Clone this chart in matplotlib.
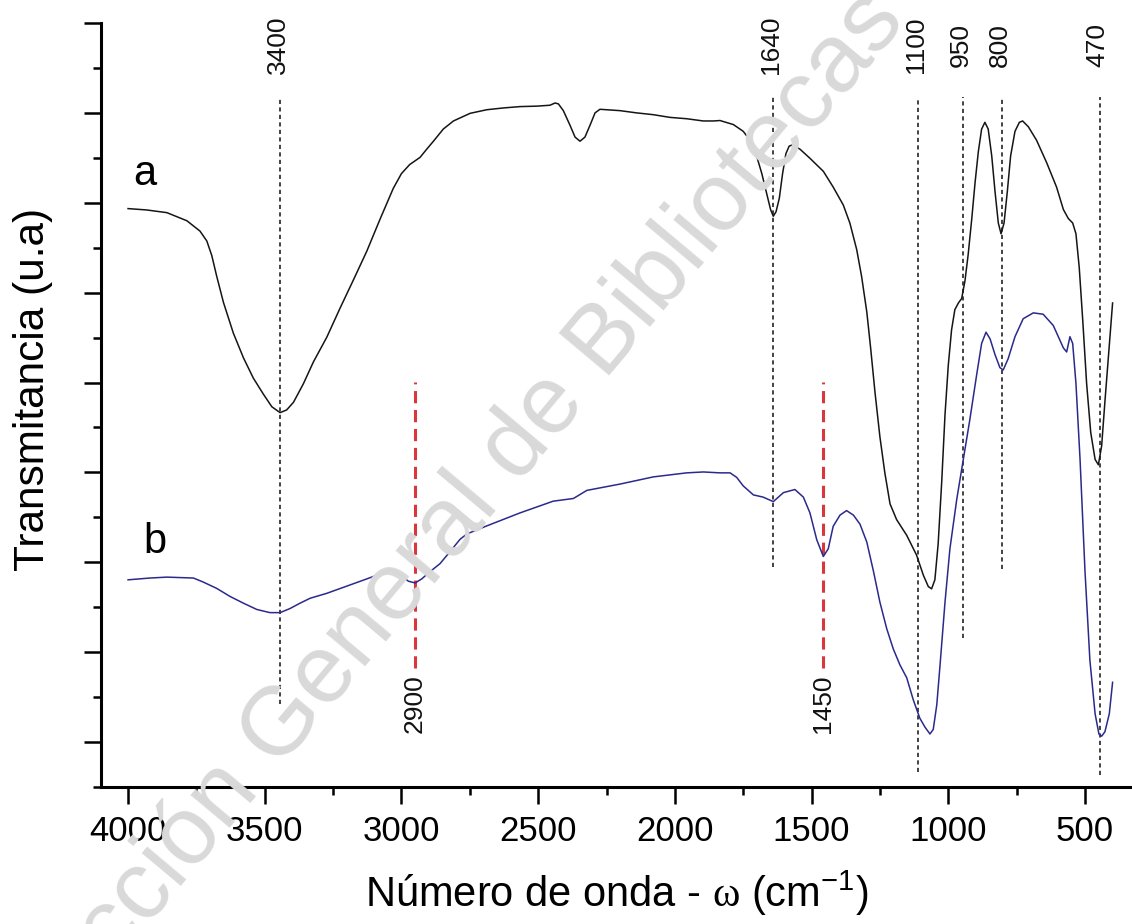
import matplotlib
matplotlib.use("Agg")
import matplotlib.pyplot as plt
from matplotlib.ticker import MultipleLocator, NullFormatter

plt.rcParams['font.family'] = ['Liberation Sans', 'DejaVu Sans']
plt.rcParams['mathtext.fontset'] = 'custom'
plt.rcParams['mathtext.rm'] = 'Liberation Serif'
plt.rcParams['mathtext.sf'] = 'Liberation Sans'

# ---- data: wavenumber (cm^-1) and transmittance (a.u., offset traces) ----
wn_a = [4000, 3932, 3858, 3785, 3737, 3712, 3694, 3676, 3651, 3615, 3578, 3542,
        3505, 3474, 3444, 3420, 3395, 3359, 3322, 3273, 3225, 3176, 3127, 3078,
        3030, 3000, 2970, 2932, 2908, 2883, 2847, 2810, 2749, 2688, 2627, 2566,
        2505, 2457, 2438, 2426, 2408, 2384, 2365, 2347, 2329, 2310, 2292, 2274,
        2201, 2140, 2079, 2018, 1957, 1896, 1859, 1835, 1786, 1750, 1725, 1701,
        1682, 1664, 1650, 1640, 1630, 1618, 1606, 1594, 1582, 1569, 1542, 1506,
        1457, 1421, 1384, 1360, 1335, 1317, 1298, 1284, 1268, 1250, 1232, 1213,
        1189, 1152, 1116, 1091, 1073, 1061, 1049, 1037, 1024, 1012, 1000, 988,
        976, 963, 951, 939, 927, 914, 902, 890, 878, 866, 854, 841, 829, 817,
        807, 796, 784, 772, 756, 740, 728, 707, 677, 640, 604, 579, 561, 545,
        533, 521, 508, 494, 479, 463, 451, 439, 427, 412, 399]
tr_a = [12.87, 12.84, 12.78, 12.60, 12.37, 12.15, 11.83, 11.37, 10.78, 10.10,
        9.55, 9.10, 8.74, 8.46, 8.33, 8.39, 8.56, 8.97, 9.46, 10.01, 10.65,
        11.28, 11.92, 12.64, 13.32, 13.65, 13.85, 14.01, 14.19, 14.37, 14.64,
        14.82, 14.99, 15.07, 15.11, 15.14, 15.15, 15.17, 15.22, 15.20, 15.05,
        14.73, 14.46, 14.37, 14.46, 14.73, 15.00, 15.08, 15.05, 15.00, 14.96,
        14.90, 14.87, 14.82, 14.82, 14.83, 14.74, 14.59, 14.39, 14.04, 13.65,
        13.20, 12.85, 12.70, 12.80, 13.10, 13.65, 14.09, 14.26, 14.29, 14.19,
        13.99, 13.70, 13.35, 12.95, 12.55, 11.96, 11.36, 10.57, 9.77, 8.78,
        7.79, 6.99, 6.30, 5.95, 5.60, 5.16, 4.71, 4.46, 4.41, 4.61, 5.41, 6.79,
        8.28, 9.38, 10.17, 10.62, 10.77, 10.87, 11.26, 11.86, 12.65, 13.45,
        14.14, 14.64, 14.79, 14.64, 14.04, 13.25, 12.55, 12.31, 12.55, 13.25,
        14.04, 14.59, 14.79, 14.82, 14.69, 14.39, 13.89, 13.35, 12.85, 12.65,
        12.55, 12.31, 11.56, 10.37, 8.98, 7.89, 7.29, 7.17, 7.59, 8.58, 9.77,
        10.77]

wn_b = [4000, 3920, 3858, 3761, 3725, 3676, 3627, 3578, 3529, 3481, 3444, 3408,
        3371, 3334, 3273, 3200, 3127, 3078, 3042, 3024, 2999, 2975, 2950, 2926,
        2896, 2859, 2822, 2786, 2761, 2688, 2566, 2445, 2371, 2322, 2201, 2079,
        1957, 1896, 1835, 1798, 1774, 1750, 1713, 1677, 1640, 1603, 1561, 1530,
        1506, 1481, 1457, 1439, 1421, 1396, 1372, 1347, 1323, 1298, 1274, 1250,
        1225, 1201, 1177, 1152, 1128, 1104, 1085, 1067, 1055, 1042, 1030, 1012,
        994, 969, 945, 921, 896, 878, 862, 847, 829, 811, 799, 781, 756, 726,
        689, 653, 616, 579, 567, 555, 545, 533, 518, 500, 482, 463, 449, 439,
        427, 411, 399]
tr_b = [4.61, 4.65, 4.67, 4.65, 4.56, 4.42, 4.24, 4.09, 3.95, 3.88, 3.88, 3.97,
        4.09, 4.20, 4.31, 4.47, 4.63, 4.74, 4.83, 4.80, 4.70, 4.58, 4.54, 4.63,
        4.79, 4.97, 5.24, 5.51, 5.63, 5.81, 6.10, 6.36, 6.42, 6.60, 6.74, 6.90,
        6.99, 7.01, 6.99, 6.99, 6.89, 6.70, 6.50, 6.45, 6.35, 6.55, 6.62, 6.45,
        6.10, 5.50, 5.13, 5.30, 5.80, 6.05, 6.15, 6.05, 5.85, 5.45, 4.81, 4.11,
        3.52, 3.07, 2.72, 2.43, 1.94, 1.53, 1.33, 1.18, 1.28, 1.83, 2.72, 4.11,
        5.30, 6.40, 7.29, 8.18, 9.18, 9.87, 10.12, 9.97, 9.62, 9.33, 9.28, 9.53,
        10.02, 10.42, 10.55, 10.52, 10.27, 9.77, 9.68, 10.02, 9.87, 8.98, 7.29,
        4.81, 2.82, 1.63, 1.18, 1.13, 1.23, 1.63, 2.33]

# band marker lines: drawn position, label, lower end of the line
black_pos = [3444, 1641, 1111, 946, 804, 445]
black_lab = ["3400", "1640", "1100", "950", "800", "470"]
black_bot = [1.85, 4.90, 0.33, 3.32, 4.85, 0.27]
red_pos = [2950, 1458]
red_lab = ["2900", "1450"]

x_ticks = [4000, 3500, 3000, 2500, 2000, 1500, 1000, 500]

fig = plt.figure(figsize=(11.32, 9.24), dpi=100)
ax = fig.add_axes([101/1132, 137/924, 1 - 101/1132, (787-23)/924])
ax.set_facecolor("none")

# watermark
fig.text(0.425, 0.47, "Colección General de Bibliotecas UC", fontsize=70,
         color="#d9d9d9", rotation=50, ha="center", va="center",
         rotation_mode="anchor", zorder=0)

ax.plot(wn_a, tr_a, color="#151515", lw=1.1, zorder=3)
ax.plot(wn_b, tr_b, color="#2a2a8c", lw=1.1, zorder=3)

for p, lab, bot in zip(black_pos, black_lab, black_bot):
    ax.plot([p, p], [bot, 15.35], color="#222222", lw=1.2,
            linestyle=(0, (2.5, 2.0)), zorder=2)
    ax.text(p + 8, 16.51, lab, rotation=90, ha="center", va="center",
            fontsize=19, color="#111111")

for p, lab in zip(red_pos, red_lab):
    ax.plot([p, p], [2.65, 9.01], color="#d9363e", lw=2.2,
            linestyle=(0, (4.0, 2.2)), zorder=2)
    ax.text(p + 2, 1.85, lab, rotation=90, ha="center", va="center",
            fontsize=19, color="#111111")

ax.text(3940, 13.65, "a", fontsize=30, ha="center", va="center")
ax.text(3900, 5.45, "b", fontsize=30, ha="center", va="center")

ax.set_xlim(4099, 328)
ax.set_ylim(0, 17)
ax.set_xticks(x_ticks)
ax.xaxis.set_minor_locator(MultipleLocator(250))
ax.yaxis.set_major_locator(MultipleLocator(2, offset=1))
ax.yaxis.set_minor_locator(MultipleLocator(1))
ax.yaxis.set_major_formatter(NullFormatter())
ax.tick_params(axis="both", which="major", length=12, width=1.8, direction="out")
ax.tick_params(axis="both", which="minor", length=6, width=1.8, direction="out")
ax.tick_params(axis="x", labelsize=25, pad=8)

for s in ["top", "right"]:
    ax.spines[s].set_visible(False)
for s in ["left", "bottom"]:
    ax.spines[s].set_linewidth(2.2)

ax.set_xlabel(r"Número de onda - $\mathrm{\omega}$ (cm$^{\mathsf{-1}}$)",
              fontsize=30, labelpad=15)
ax.set_ylabel("Transmitancia (u.a)", fontsize=30.5)
ax.yaxis.set_label_coords(-0.047, 0.52)

fig.savefig("out.png", dpi=100)
